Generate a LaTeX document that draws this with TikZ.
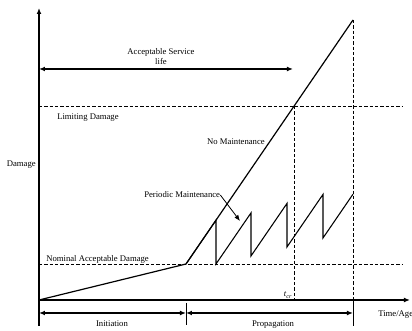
\documentclass[tikz,border=0pt]{standalone}
\usepackage{fontspec}
\setmainfont{Liberation Serif}
\usetikzlibrary{arrows.meta}
\begin{document}
\begin{tikzpicture}[x=0.75pt,y=-0.75pt,
  lbl/.style={font=\fontsize{6.5}{7.5}\selectfont, inner sep=0pt},
  axisline/.style={line width=0.9pt},
  curve/.style={line width=0.8pt},
  guide/.style={line width=0.6pt, dash pattern=on 2.5pt off 1.5pt},
  tick/.style={line width=0.7pt},
  tip/.style={-{Latex[length=4.5pt,width=3.6pt]}},
  tipboth/.style={{Latex[length=4.5pt,width=3.6pt]}-{Latex[length=4.5pt,width=3.6pt]}}]
\useasboundingbox (0,0) rectangle (412,331);
% key points
\coordinate (O) at (39,300);
\coordinate (Ytop) at (39,8);
\coordinate (Ybot) at (39,326);
\coordinate (Xend) at (410,300);
\coordinate (K) at (186,264);
\coordinate (T) at (353,20);
\coordinate (C) at (294,106);
\coordinate (Cb) at (294,300);
\coordinate (Tb) at (353,300);
\coordinate (Tt) at (353,326);
\coordinate (Kt) at (186,303);
\coordinate (Kb) at (186,325);
\coordinate (L1) at (39,106);
\coordinate (L2) at (403,106);
\coordinate (N1) at (39,264);
\coordinate (N2) at (403,264);
\coordinate (A1) at (39,69);
\coordinate (A2) at (293,69);
\coordinate (B1) at (39,313);
\coordinate (B2) at (186,313);
\coordinate (B3) at (353,313);
\coordinate (PMtip) at (240,221);
% axes
\draw[axisline, tip] (Ybot) -- (Ytop);
\draw[axisline, tip] (O) -- (Xend);
% guides
\draw[guide] (L1) -- (L2);
\draw[guide] (N1) -- (N2);
\draw[guide] (C) -- (Cb);
\draw[guide] (T) -- (Tb);
\draw[tick] (Tb) -- (Tt);
\draw[tick] (Kt) -- (Kb);
% damage curves
\draw[axisline] (O) -- (K) -- (T);
\draw[curve] (K) -- (216,220.2) -- (216,264) -- (251,212.9) -- (251,256)
  -- (287,203.4) -- (287,247) -- (323,194.4) -- (323,238) -- (353,194.2);
% service life arrow
\draw[axisline, tipboth] (A1) -- (A2);
\node[lbl, align=center] (asl) at (161,57) {Acceptable Service\\life};
% labels
\node[lbl, anchor=west] (ld) at (57,118) {Limiting Damage};
\node[lbl, anchor=east] (dmg) at (36,165) {Damage};
\node[lbl, anchor=east] (nm) at (265,142) {No Maintenance};
\node[lbl, anchor=west] (pm) at (144,195) {Periodic Maintenance};
\draw[line width=0.6pt, tip] (pm.east) -- (PMtip);
\node[lbl, anchor=west] (nad) at (46,259) {Nominal Acceptable Damage};
\node[lbl] (tcr) at (288,295) {\textit{t}\textsubscript{\textit{cr}}};
% phases
\draw[axisline, tipboth] (B1) -- (B2);
\draw[axisline, tipboth] (B2) -- (B3);
\node[lbl] (ini) at (112,324) {Initiation};
\node[lbl] (prop) at (273,325) {Propagation};
\node[lbl, anchor=west] (time) at (378,315) {Time/Age};
\end{tikzpicture}
\end{document}
